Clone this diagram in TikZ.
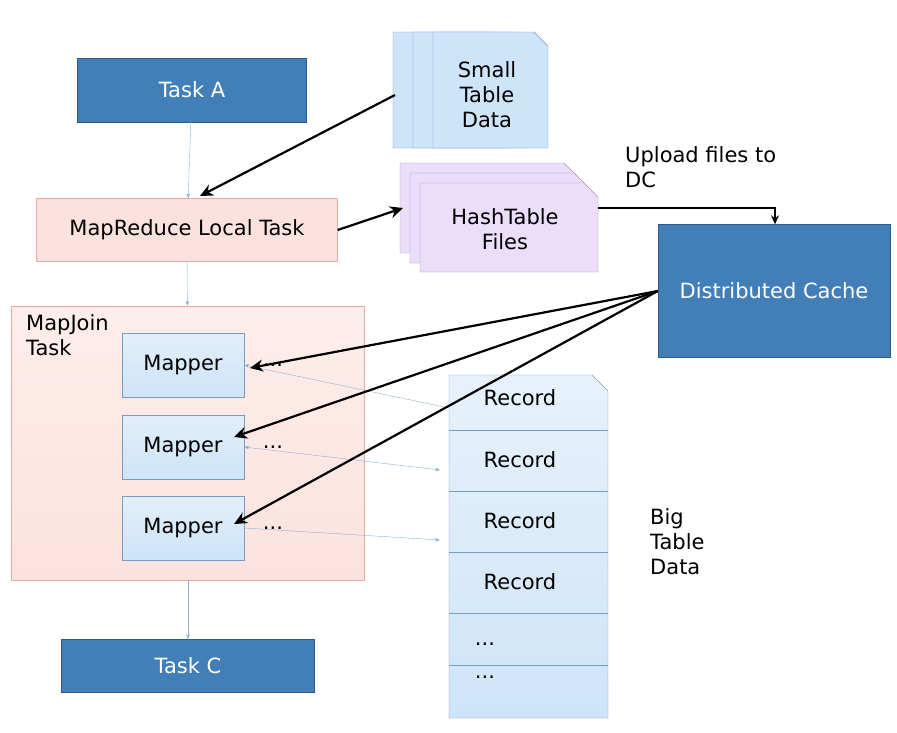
\documentclass[tikz,border=0pt]{standalone}
\usepackage{fontspec}
\setmainfont{DejaVu Sans}
\usetikzlibrary{arrows.meta}
\definecolor{taskblue}{RGB}{66,126,184}
\definecolor{taskedge}{RGB}{45,90,140}
\definecolor{localpink}{RGB}{252,226,222}
\definecolor{pinkedge}{RGB}{236,170,160}
\definecolor{mapperblue}{RGB}{206,228,248}
\definecolor{mapperedge}{RGB}{120,155,190}
\definecolor{hashlilac}{RGB}{234,222,250}
\definecolor{lilacedge}{RGB}{165,145,200}
\definecolor{flowblue}{RGB}{140,175,215}

\tikzset{
  task/.style={draw=taskedge, fill=taskblue, text=white, font=\fontsize{21}{25}\selectfont},
  local/.style={draw=pinkedge, fill=localpink, font=\fontsize{21}{25}\selectfont},
  mapper/.style={draw=mapperedge, top color=mapperblue!60, bottom color=mapperblue, font=\fontsize{21}{25}\selectfont},
  label/.style={font=\fontsize{21}{25}\selectfont, align=left},
  flow/.style={flowblue, -{Stealth[length=5pt]}},
  fetch/.style={black, line width=2.2pt, -{Stealth[length=13pt,width=12pt]}}
}

% document with a cut corner
\newcommand{\docshape}[6]{%
  \draw[#5, fill=#6] (#1,#2) -- (#3-14,#2) -- (#3,#2+14) -- (#3,#4) -- (#1,#4) -- cycle;}

\begin{document}
\begin{tikzpicture}[x=1pt,y=-1pt]
    \useasboundingbox (0,0) rectangle (897,732);

    % Tasks
    \node[task, minimum width=229, minimum height=64] (taskA) at (192,90) {Task A};
    \node[local, minimum width=301, minimum height=63] (local) at (187,230) {MapReduce Local Task};
    \node[task, minimum width=253, minimum height=53] (taskC) at (188,666) {Task C};
    \node[task, minimum width=232, minimum height=133] (dc) at (774,291) {Distributed Cache};

    % MapJoin task
    \node[draw=pinkedge, top color=localpink!60, bottom color=localpink, minimum width=353, minimum height=274] (mapjoin) at (188,443) {};
    \node[label, anchor=north west, inner sep=0] at (26,314) {MapJoin\\Task};
    \foreach \i/\y in {1/365,2/447,3/528} {
        \node[mapper, minimum width=122, minimum height=64] (mapper\i) at (183,\y) {Mapper};
        \node[label] (dots\i) at (273,\y) {...};
    }

    % Small table data
    \docshape{393}{32}{508}{148}{mapperedge}{mapperblue}
    \docshape{413}{32}{528}{148}{mapperedge}{mapperblue}
    \docshape{433}{32}{548}{148}{mapperedge}{mapperblue}
    \node[label, align=center] (small) at (487,95) {Small\\Table\\Data};
    \coordinate (smallW) at (395,95);

    % HashTable files
    \docshape{400}{163}{578}{253}{lilacedge}{hashlilac}
    \docshape{410}{173}{588}{263}{lilacedge}{hashlilac}
    \docshape{420}{183}{598}{272}{lilacedge}{hashlilac}
    \node[label, align=center] (hash) at (505,229) {HashTable\\Files};
    \coordinate (hashW) at (403,208);
    \coordinate (hashE) at (598,208);

    % Big table records
    \draw[mapperedge, top color=mapperblue!50, bottom color=mapperblue] (449,375) -- (592,375) -- (608,391) -- (608,718) -- (449,718) -- cycle;
    \foreach \y in {430,491,552,613,665} {
        \draw[mapperedge] (449,\y) -- (608,\y);
    }
    \foreach \i/\y in {1/398,2/460,3/521,4/582} {
        \node[label] (rec\i) at (520,\y) {Record};
    }
    \node[label] at (485,644) {...};
    \node[label] at (485,677) {...};
    \node[label, anchor=north west, inner sep=0] at (650,508) {Big\\Table\\Data};
    \node[label, anchor=north west, inner sep=0] at (625,146) {Upload files to\\DC};

    % Flow between tasks
    \draw[flow] (taskA) -- (local);
    \draw[flow] (local) -- (mapjoin);
    \draw[flow] (mapjoin) -- (taskC);

    % Record reads
    \draw[flow] (449,408) -- (mapper1.east);
    \draw[flow, {Stealth[length=5pt]}-{Stealth[length=5pt]}] (mapper2.east) -- (440,470);
    \draw[flow] (mapper3.east) -- (440,540);

    % Data movement
    \draw[fetch] (smallW) -- (200,196);
    \draw[fetch] (local.east) -- (hashW);
    \draw[fetch, -{Stealth[length=9pt,width=8pt]}] (hashE) -- (775,208) -- (dc.north -| 775,0);
    \draw[fetch] (dc.west) -- (250,368);
    \draw[fetch] (dc.west) -- (234,437);
    \draw[fetch] (dc.west) -- (234,524);
\end{tikzpicture}
\end{document}
